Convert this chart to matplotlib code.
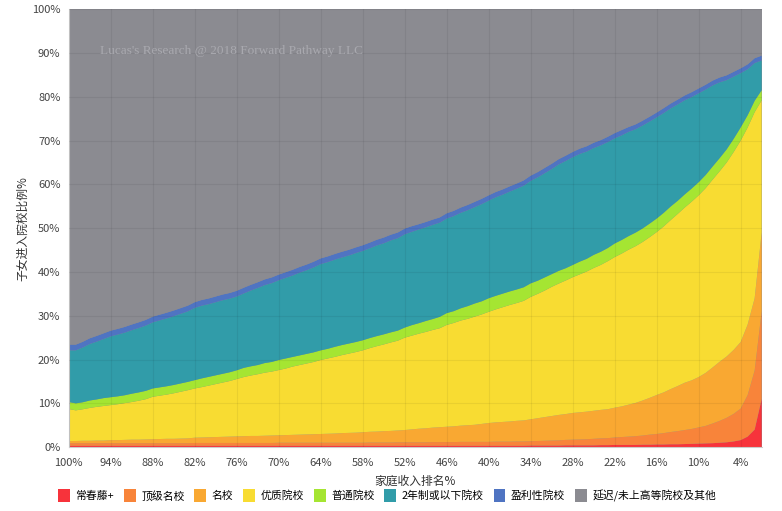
import matplotlib
matplotlib.use("Agg")
import matplotlib.pyplot as plt
from matplotlib.patches import Patch

plt.rcParams['font.family'] = ['Noto Sans CJK SC', 'DejaVu Sans']

# x categories: family income rank, 100% .. 1%
ranks = [f"{p}%" for p in range(100, 0, -1)]

ivy = [0.3] * 60 + [
    0.3, 0.3, 0.3, 0.3, 0.3, 0.3, 0.35, 0.35, 0.35, 0.35,
    0.35, 0.4, 0.4, 0.4, 0.4, 0.4, 0.45, 0.45, 0.5, 0.5,
    0.5, 0.5, 0.55, 0.55, 0.6, 0.6, 0.65, 0.65, 0.7, 0.75,
    0.8, 0.85, 0.9, 1.0, 1.1, 1.3, 1.6, 2.4, 4.0, 11.0]

top_tier = [
    0.6, 0.6, 0.6, 0.6, 0.6, 0.6, 0.6, 0.6, 0.6, 0.6,
    0.6, 0.6, 0.6, 0.6, 0.6, 0.6, 0.6, 0.6, 0.65, 0.65,
    0.65, 0.65, 0.65, 0.65, 0.65, 0.65, 0.65, 0.65, 0.65, 0.65,
    0.7, 0.7, 0.7, 0.7, 0.7, 0.7, 0.7, 0.7, 0.7, 0.7,
    0.7, 0.7, 0.7, 0.75, 0.75, 0.75, 0.75, 0.8, 0.8, 0.8,
    0.8, 0.8, 0.85, 0.85, 0.85, 0.85, 0.9, 0.9, 0.9, 0.9,
    0.9, 0.95, 0.95, 0.95, 1.0, 1.0, 1.0, 1.05, 1.1, 1.15,
    1.2, 1.25, 1.3, 1.35, 1.4, 1.5, 1.55, 1.6, 1.7, 1.8,
    1.9, 2.0, 2.1, 2.3, 2.4, 2.6, 2.8, 3.0, 3.2, 3.4,
    3.7, 4.0, 4.5, 5.0, 5.6, 6.3, 7.2, 9.5, 13.5, 20.0]

good = [
    0.5, 0.5, 0.55, 0.55, 0.6, 0.6, 0.7, 0.7, 0.75, 0.8,
    0.8, 0.85, 0.9, 0.95, 1.0, 1.0, 1.05, 1.1, 1.2, 1.25,
    1.3, 1.35, 1.4, 1.45, 1.5, 1.55, 1.6, 1.6, 1.65, 1.7,
    1.7, 1.75, 1.8, 1.85, 1.9, 1.95, 2.0, 2.05, 2.1, 2.2,
    2.25, 2.3, 2.4, 2.45, 2.5, 2.6, 2.65, 2.7, 2.8, 2.95,
    3.1, 3.2, 3.3, 3.4, 3.5, 3.6, 3.7, 3.8, 3.9, 4.1,
    4.3, 4.4, 4.5, 4.6, 4.7, 4.8, 5.0, 5.2, 5.4, 5.6,
    5.8, 5.9, 6.1, 6.2, 6.3, 6.4, 6.5, 6.6, 6.8, 7.0,
    7.3, 7.6, 8.0, 8.4, 8.9, 9.3, 9.8, 10.3, 10.8, 11.1,
    11.5, 12.1, 12.8, 13.5, 14.0, 14.6, 15.2, 16.1, 16.5, 18.0]

quality = [
    7.3, 7.0, 7.2, 7.5, 7.7, 7.9, 8.0, 8.2, 8.4, 8.6,
    8.9, 9.2, 9.7, 9.9, 10.1, 10.4, 10.7, 11.0, 11.25, 11.5,
    11.8, 12.1, 12.4, 12.7, 13.1, 13.5, 13.8, 14.1, 14.4, 14.6,
    14.9, 15.2, 15.6, 15.9, 16.2, 16.5, 16.9, 17.2, 17.5, 17.8,
    18.1, 18.4, 18.7, 19.1, 19.5, 19.8, 20.2, 20.5, 21.1, 21.4,
    21.7, 22.0, 22.3, 22.6, 23.25, 23.6, 24.0, 24.3, 24.7, 25.0,
    25.4, 25.8, 26.2, 26.6, 26.9, 27.3, 27.95, 28.4, 28.9, 29.5,
    30.0, 30.5, 31.0, 31.5, 32.0, 32.6, 33.1, 33.8, 34.4, 34.9,
    35.4, 35.8, 36.2, 36.7, 37.2, 37.9, 38.6, 39.3, 40.0, 40.8,
    41.5, 42.2, 42.9, 43.5, 44.3, 45.2, 46.0, 45.0, 42.5, 30.2]

ordinary = [
    1.6, 1.6, 1.6, 1.7, 1.7, 1.8, 1.8, 1.8, 1.8, 1.9,
    1.9, 1.9, 1.9, 1.9, 1.9, 1.9, 1.9, 1.9, 1.9, 2.0,
    2.0, 2.0, 2.0, 2.0, 2.0, 2.1, 2.1, 2.1, 2.2, 2.2,
    2.3, 2.3, 2.2, 2.2, 2.2, 2.2, 2.2, 2.2, 2.3, 2.3,
    2.3, 2.3, 2.3, 2.3, 2.3, 2.3, 2.3, 2.3, 2.3, 2.4,
    2.4, 2.5, 2.5, 2.6, 2.7, 2.7, 2.8, 2.9, 3.0, 3.0,
    3.1, 3.1, 3.1, 3.1, 3.1, 3.1, 3.1, 3.0, 3.0, 2.9,
    2.9, 2.8, 2.8, 2.9, 2.9, 3.0, 3.0, 3.0, 3.1, 3.1,
    3.1, 3.1, 3.1, 3.1, 3.1, 3.1, 3.1, 3.0, 3.0, 3.0,
    3.0, 3.0, 3.0, 3.0, 3.0, 3.0, 3.0, 2.8, 2.6, 2.3]

two_year = [
    11.8, 12.1, 12.5, 12.9, 13.2, 13.5, 13.9, 14.1, 14.3, 14.5,
    14.7, 14.9, 15.1, 15.3, 15.5, 15.7, 15.9, 16.1, 16.5, 16.6,
    16.6, 16.7, 16.8, 16.8, 16.85, 17.0, 17.3, 17.6, 17.8, 18.0,
    18.2, 18.4, 18.6, 18.9, 19.1, 19.4, 19.7, 19.8, 19.9, 20.0,
    20.1, 20.3, 20.4, 20.5, 20.7, 20.8, 21.0, 21.1, 21.3, 21.3,
    21.4, 21.4, 21.5, 21.5, 21.6, 21.7, 21.8, 21.9, 22.0, 22.2,
    22.3, 22.5, 22.6, 22.8, 23.0, 23.2, 23.4, 23.6, 23.8, 24.0,
    24.3, 24.5, 24.6, 24.6, 24.5, 24.4, 24.3, 24.2, 24.0, 23.9,
    23.8, 23.6, 23.5, 23.3, 23.1, 22.8, 22.4, 22.0, 21.5, 20.9,
    20.3, 19.5, 18.5, 17.3, 15.8, 14.2, 12.4, 10.5, 8.6, 6.8]

for_profit = [1.3] * 50 + [1.2] * 30 + [1.1] * 20

other = [
    77.2, 77.0, 76.4, 75.8, 75.3, 74.8, 74.0, 73.6, 73.2, 72.7,
    72.2, 71.6, 70.8, 70.3, 69.8, 69.2, 68.6, 68.1, 67.5, 66.9,
    66.4, 65.9, 65.4, 64.9, 64.5, 63.9, 63.3, 62.8, 62.2, 61.7,
    61.2, 60.6, 60.0, 59.4, 58.8, 58.2, 57.5, 57.0, 56.5, 56.0,
    55.5, 55.0, 54.5, 53.9, 53.3, 52.7, 52.1, 51.6, 50.7, 50.2,
    49.7, 49.1, 48.5, 47.9, 47.1, 46.5, 45.8, 45.1, 44.4, 43.7,
    43.0, 42.3, 41.6, 40.9, 40.2, 39.5, 38.5, 37.7, 36.8, 35.9,
    35.0, 34.1, 33.1, 32.4, 31.7, 31.0, 30.3, 29.6, 28.8, 28.0,
    27.2, 26.4, 25.6, 24.8, 24.0, 23.1, 22.2, 21.3, 20.4, 19.5,
    18.5, 17.6, 16.7, 15.8, 15.1, 14.5, 14.0, 13.1, 12.2, 11.2]

labels = ["常春藤+", "顶级名校", "名校", "优质院校", "普通院校",
          "2年制或以下院校", "盈利性院校", "延迟/未上高等院校及其他"]
colors = ["#f7333b", "#f8843a", "#f9a832", "#f8dc32", "#a5e532",
          "#319ca9", "#4f74c2", "#8b8b91"]

series = [ivy, top_tier, good, quality, ordinary, two_year, for_profit, other]

fig = plt.figure(figsize=(7.82, 5.11), dpi=100)
ax = fig.add_axes([0.088, 0.125, 0.886, 0.857])
x = list(range(len(ranks)))
ax.set_facecolor(colors[-1])
ax.stackplot(x, *series, colors=colors, linewidth=0)

ax.set_xlim(0, 99)
ax.set_ylim(0, 100)
ax.set_xticks(x[::6])
ax.set_xticklabels(ranks[::6], fontsize=8, color="#444")
ax.set_yticks(range(0, 101, 10))
ax.set_yticklabels([f"{v}%" for v in range(0, 101, 10)], fontsize=8, color="#444")
ax.tick_params(axis="x", length=0, pad=8)
ax.tick_params(axis="y", length=0, pad=6)
ax.grid(True, color="#000000", alpha=0.06, linewidth=0.8)
ax.set_axisbelow(False)
for s in ["top", "right"]:
    ax.spines[s].set_visible(False)
ax.spines["left"].set_color("#cccccc")
ax.spines["bottom"].set_color("#cccccc")

ax.set_xlabel("家庭收入排名%", fontsize=8.5, color="#333", labelpad=5)
ax.set_ylabel("子女进入院校比例%", fontsize=8.5, color="#333", labelpad=2)

ax.text(0.045, 0.905, "Lucas's Research @ 2018 Forward Pathway LLC",
        transform=ax.transAxes, fontsize=9.5, color="#a9a9af",
        family="Liberation Serif", va="center")

handles = [Patch(facecolor=c, edgecolor="none") for c in colors]
fig.legend(handles, labels, loc="center", bbox_to_anchor=(0.495, 0.03), ncol=8,
           frameon=False, fontsize=7.8, handlelength=1.1, handleheight=1.4,
           columnspacing=0.9, handletextpad=0.5)

fig.savefig("out.png", dpi=100)
